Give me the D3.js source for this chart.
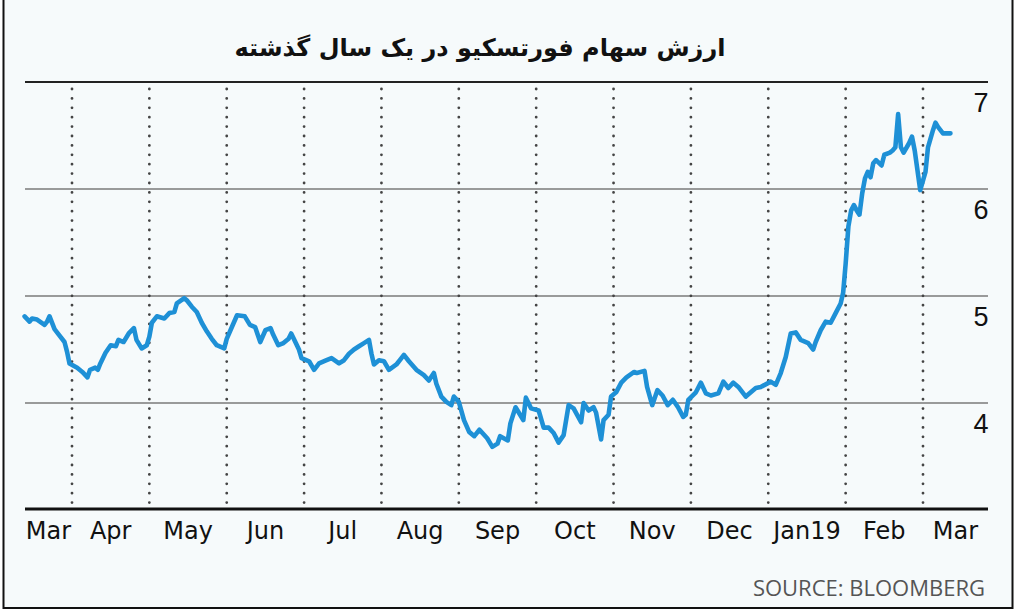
<!DOCTYPE html>
<html>
<head>
<meta charset="utf-8">
<script src="https://cdn.jsdelivr.net/npm/d3@7"></script>
<style>
  html, body { margin: 0; padding: 0; background: #ffffff; }
  svg { display: block; }
</style>
</head>
<body>
<svg id="chart" width="1024" height="613"></svg>
<script>
// ---------------- data ----------------
const titleText = "ارزش سهام فورتسکیو در یک سال گذشته";
const sourceText = "SOURCE: BLOOMBERG";
const monthLabels = ["Mar","Apr","May","Jun","Jul","Aug","Sep","Oct","Nov","Dec","Jan19","Feb","Mar"];
const yTicks = [4, 5, 6, 7];
const dates = [
"2018-03-13","2018-03-15","2018-03-16","2018-03-18","2018-03-21","2018-03-22","2018-03-23","2018-03-25","2018-03-26","2018-03-29","2018-03-30","2018-03-31",
"2018-04-03","2018-04-05","2018-04-07","2018-04-08","2018-04-10","2018-04-11","2018-04-12","2018-04-14","2018-04-16","2018-04-18","2018-04-19","2018-04-21","2018-04-23","2018-04-25","2018-04-26","2018-04-28","2018-04-30",
"2018-05-01","2018-05-02","2018-05-04","2018-05-07","2018-05-09","2018-05-11","2018-05-12","2018-05-15","2018-05-16","2018-05-18","2018-05-20","2018-05-22","2018-05-24","2018-05-26","2018-05-28","2018-05-31",
"2018-06-01","2018-06-03","2018-06-05","2018-06-08","2018-06-10","2018-06-12","2018-06-14","2018-06-16","2018-06-18","2018-06-19","2018-06-21","2018-06-23","2018-06-25","2018-06-26","2018-06-27","2018-06-29","2018-06-30",
"2018-07-03","2018-07-05","2018-07-07","2018-07-10","2018-07-12","2018-07-15","2018-07-17","2018-07-19","2018-07-21","2018-07-23","2018-07-25","2018-07-27","2018-07-28","2018-07-29","2018-07-31",
"2018-08-02","2018-08-04","2018-08-07","2018-08-09","2018-08-10","2018-08-12","2018-08-15","2018-08-18","2018-08-20","2018-08-22","2018-08-23","2018-08-25","2018-08-27","2018-08-29","2018-08-30",
"2018-09-01","2018-09-03","2018-09-05","2018-09-07","2018-09-09","2018-09-12","2018-09-14","2018-09-16","2018-09-17","2018-09-20","2018-09-21","2018-09-23","2018-09-24","2018-09-26","2018-09-27","2018-09-29",
"2018-10-02","2018-10-04","2018-10-06","2018-10-08","2018-10-10","2018-10-12","2018-10-14","2018-10-16","2018-10-19","2018-10-20","2018-10-22","2018-10-24","2018-10-25","2018-10-27","2018-10-28","2018-10-30","2018-10-31",
"2018-11-02","2018-11-04","2018-11-06","2018-11-09","2018-11-10","2018-11-13","2018-11-14","2018-11-16","2018-11-18","2018-11-20","2018-11-22","2018-11-24","2018-11-26","2018-11-28","2018-11-29","2018-11-30",
"2018-12-03","2018-12-05","2018-12-07","2018-12-09","2018-12-12","2018-12-14","2018-12-16","2018-12-18","2018-12-20","2018-12-23","2018-12-25","2018-12-27","2018-12-29",
"2019-01-02","2019-01-04","2019-01-06","2019-01-08","2019-01-10","2019-01-12","2019-01-14","2019-01-17","2019-01-19","2019-01-20","2019-01-22","2019-01-24","2019-01-26","2019-01-28","2019-01-30","2019-01-31",
"2019-02-01","2019-02-02","2019-02-03","2019-02-04","2019-02-05","2019-02-06","2019-02-07","2019-02-08","2019-02-09","2019-02-10","2019-02-11","2019-02-12","2019-02-14","2019-02-15","2019-02-17","2019-02-18","2019-02-19","2019-02-20","2019-02-21","2019-02-22","2019-02-24","2019-02-25","2019-02-26","2019-02-28",
"2019-03-02","2019-03-03","2019-03-05","2019-03-06","2019-03-07","2019-03-09","2019-03-12"
];
const prices = [
4.81,4.76,4.79,4.78,4.73,4.76,4.81,4.69,4.66,4.57,4.48,4.37,
4.33,4.29,4.24,4.31,4.33,4.31,4.37,4.47,4.54,4.53,4.59,4.57,4.65,4.70,4.59,4.51,4.54,
4.62,4.75,4.81,4.79,4.84,4.85,4.93,4.98,4.96,4.90,4.85,4.75,4.67,4.60,4.54,4.51,
4.60,4.71,4.82,4.81,4.73,4.71,4.57,4.68,4.70,4.64,4.54,4.56,4.60,4.65,4.60,4.50,4.42,
4.39,4.31,4.37,4.40,4.42,4.37,4.40,4.46,4.50,4.53,4.56,4.59,4.46,4.36,4.40,
4.39,4.31,4.36,4.42,4.45,4.39,4.31,4.26,4.21,4.28,4.18,4.06,4.01,3.98,4.06,
4.01,3.84,3.73,3.69,3.75,3.67,3.59,3.62,3.69,3.65,3.81,3.96,3.92,3.84,4.05,3.95,
3.93,3.77,3.77,3.72,3.63,3.70,3.98,3.95,3.82,4.00,3.93,3.96,3.91,3.66,3.84,3.89,4.06,
4.10,4.19,4.24,4.29,4.28,4.30,4.15,3.98,4.12,4.07,3.98,4.03,3.96,3.87,3.89,4.03,
4.10,4.19,4.09,4.07,4.09,4.20,4.14,4.19,4.15,4.06,4.10,4.14,4.15,
4.20,4.17,4.28,4.43,4.65,4.66,4.59,4.56,4.50,4.57,4.68,4.76,4.75,4.84,4.93,5.03,
5.30,5.65,5.80,5.85,5.80,5.76,5.96,6.10,6.16,6.11,6.24,6.27,6.22,6.32,6.34,6.36,6.39,6.70,6.39,6.34,6.43,6.49,6.36,5.99,
6.16,6.39,6.55,6.62,6.58,6.52,6.52
];

// ---------------- helpers ----------------
const parse = d3.timeParse("%Y-%m-%d");
// month position: Mar 2018 = 0, Apr 2018 = 1, ... Mar 2019 = 12 (equal-width months)
function monthPos(dt) {
  const m = (dt.getFullYear() - 2018) * 12 + dt.getMonth() - 2;
  const dim = new Date(dt.getFullYear(), dt.getMonth() + 1, 0).getDate();
  return m + (dt.getDate() - 1) / dim;
}
const series = dates.map((d, i) => ({ t: monthPos(parse(d)), v: prices[i] }));

const svg = d3.select("#chart");
const W = 1024, H = 613;

const x = d3.scaleLinear().domain([1, 12]).range([72, 923]);
const y = d3.scaleLinear().domain([3, 7]).range([510, 82]);
const axisLeft = 25, axisRight = 988;

// frame / background
svg.append("rect").attr("x", 0).attr("y", 0).attr("width", W).attr("height", H).attr("fill", "#ffffff");
svg.append("rect").attr("x", 3.5).attr("y", -2).attr("width", 1009).attr("height", 610)
  .attr("fill", "#f6fafb").attr("stroke", "#111").attr("stroke-width", 2);

// title
svg.append("text")
  .attr("x", 480).attr("y", 56)
  .attr("text-anchor", "middle")
  .attr("font-family", "'DejaVu Sans', sans-serif")
  .attr("font-weight", "bold")
  .attr("font-size", 24)
  .attr("fill", "#111")
  .text(titleText);

// horizontal gridlines
svg.append("g").selectAll("line").data(yTicks).join("line")
  .attr("x1", axisLeft).attr("x2", axisRight)
  .attr("y1", d => y(d)).attr("y2", d => y(d))
  .attr("stroke", d => d === 7 ? "#222" : "#7a7a7a")
  .attr("stroke-width", d => d === 7 ? 2 : 1.3);

// vertical dotted month lines
const bounds = d3.range(1, 13);
svg.append("g").selectAll("line").data(bounds).join("line")
  .attr("x1", d => x(d)).attr("x2", d => x(d))
  .attr("y1", 89).attr("y2", 506)
  .attr("stroke", "#444")
  .attr("stroke-width", 2.8)
  .attr("stroke-linecap", "round")
  .attr("stroke-dasharray", "0,9.4");

// y labels (below each gridline, at right)
svg.append("g").selectAll("text").data(yTicks).join("text")
  .attr("x", 981).attr("y", d => y(d) + 30)
  .attr("text-anchor", "middle")
  .attr("font-family", "'Liberation Sans', Arial, sans-serif")
  .attr("font-size", 27)
  .attr("fill", "#111")
  .text(d => d);

// line
const line = d3.line().x(d => x(d.t)).y(d => y(d.v));
svg.append("path").datum(series)
  .attr("d", line)
  .attr("fill", "none")
  .attr("stroke", "#1e90d6")
  .attr("stroke-width", 4.6)
  .attr("stroke-linejoin", "round")
  .attr("stroke-linecap", "round");

// bottom axis line
svg.append("line")
  .attr("x1", axisLeft).attr("x2", axisRight)
  .attr("y1", y(3) - 1).attr("y2", y(3) - 1)
  .attr("stroke", "#111").attr("stroke-width", 3);

// month labels centered within visible month intervals
svg.append("g").selectAll("text").data(monthLabels).join("text")
  .attr("x", (d, i) => (Math.max(axisLeft, x(i)) + Math.min(axisRight, x(i + 1))) / 2)
  .attr("y", 539)
  .attr("text-anchor", "middle")
  .attr("font-family", "'DejaVu Sans', sans-serif")
  .attr("font-size", 24)
  .attr("fill", "#111")
  .text(d => d);

// source
svg.append("text")
  .attr("x", 985).attr("y", 596)
  .attr("text-anchor", "end")
  .attr("font-family", "'Open Sans', sans-serif")
  .attr("font-size", 22)
  .attr("fill", "#555")
  .text(sourceText);
</script>
</body>
</html>
